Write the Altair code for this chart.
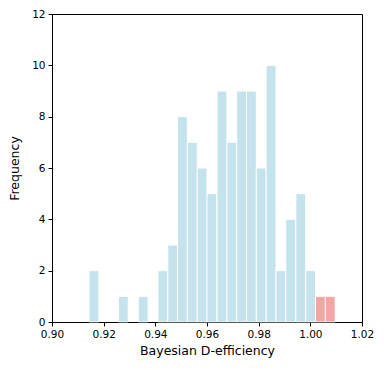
import altair as alt
import pandas as pd

bin_start = [0.9143, 0.9257, 0.9334, 0.9410, 0.9448, 0.9486, 0.9524, 0.9562,
             0.9600, 0.9639, 0.9677, 0.9715, 0.9753, 0.9791, 0.9829, 0.9867,
             0.9905, 0.9944, 0.9982, 1.0020, 1.0058]
counts = [2, 1, 1, 2, 3, 8, 7, 6, 5, 9, 7, 9, 9, 6, 10, 2, 4, 5, 2, 1, 1]
group = ["in"] * 19 + ["out"] * 2
BIN_W = 0.003812

df = pd.DataFrame({"lo": bin_start, "n": counts, "g": group})

x_ticks = [0.90, 0.92, 0.94, 0.96, 0.98, 1.00, 1.02]
y_ticks = [0, 2, 4, 6, 8, 10, 12]

chart = alt.Chart(df).transform_calculate(
    hi=f"datum.lo + {BIN_W}"
).mark_bar(stroke="white", strokeWidth=1, opacity=0.7).encode(
    x=alt.X("lo:Q", scale=alt.Scale(domain=[0.90, 1.02], nice=False, zero=False, padding=0),
            axis=alt.Axis(values=x_ticks, format=".2f", title="Bayesian D-efficiency",
                          grid=False, labelFlush=False, labelOverlap=False)),
    x2="hi:Q",
    y=alt.Y("n:Q", scale=alt.Scale(domain=[0, 12], nice=False, padding=0),
            axis=alt.Axis(values=y_ticks, format="d", title="Frequency", grid=False,
                          labelFlush=False, labelOverlap=False)),
    y2=alt.datum(0),
    color=alt.Color("g:N", scale=alt.Scale(domain=["in", "out"],
                                           range=["lightblue", "lightcoral"]),
                    legend=None),
).properties(
    width=310, height=308,
    autosize=alt.AutoSizeParams(type="none"),
    padding={"left": 44, "top": 6, "right": 14, "bottom": 40},
).configure_view(
    stroke="black", strokeWidth=1
).configure_axis(
    domainColor="black", tickColor="black", tickSize=4, labelColor="black",
    titleColor="black", labelFont="DejaVu Sans", titleFont="DejaVu Sans",
    labelFontSize=10.5, titleFontSize=12.5, titleFontWeight="normal",
    labelPadding=3,
).configure_axisY(titlePadding=10).configure_axisX(titlePadding=5)

chart.save("out.html", embed_options={"renderer": "svg", "actions": False})
